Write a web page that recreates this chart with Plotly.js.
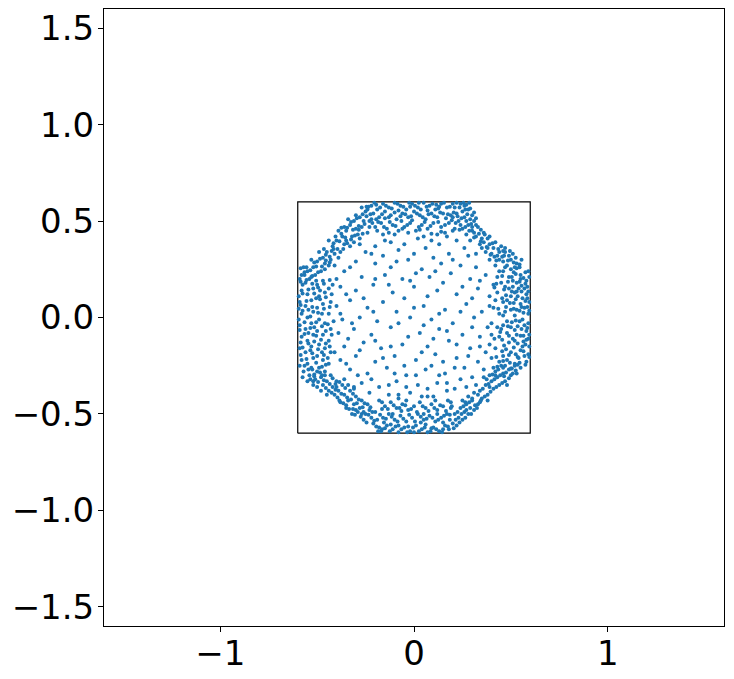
<!DOCTYPE html>
<html>
<head>
<meta charset="utf-8">
<script src="https://cdn.plot.ly/plotly-3.0.1.min.js"></script>
<style>
  html, body { margin: 0; padding: 0; background: #fff; }
  #graph { width: 734px; height: 679px; }
</style>
</head>
<body>
<div id="graph"></div>
<script>
// scatter points, grouped by region of the ring / interior
var ringRight = [[0.59,0.02],[0.57,-0.04],[0.55,0.07],[0.52,0.01],[0.48,-0.02],[0.58,0.12],[0.54,0.15],[0.5,0.11],[0.46,0.08],[0.59,-0.11],[0.56,-0.15],[0.53,-0.09],[0.49,-0.13],[0.45,-0.06],[0.58,0.19],[0.55,0.22],[0.51,0.19],[0.47,0.16],[0.43,0.13],[0.59,-0.19],[0.54,-0.21],[0.5,-0.18],[0.46,-0.2],[0.44,-0.1],[0.57,0.05],[0.53,0.04],[0.5,-0.05],[0.58,-0.07],[0.56,0.1],[0.52,0.13],[0.47,0.03],[0.44,0.02],[0.595,0.08],[0.57,0.15],[0.53,0.18],[0.49,0.21],[0.56,-0.01],[0.51,-0.11],[0.48,-0.08],[0.55,-0.17],[0.58,-0.23],[0.52,-0.24],[0.47,-0.25],[0.42,-0.16],[0.43,0.21],[0.59,0.24],[0.545,0.26],[0.5,0.25],[0.46,0.24],[0.41,0.05],[0.4,-0.03],[0.575,-0.14],[0.535,-0.135],[0.505,-0.025],[0.465,-0.145],[0.585,0.055],[0.545,0.035],[0.515,0.075],[0.475,0.115],[0.565,0.205],[0.525,0.225],[0.49,0.15],[0.45,0.18],[0.59,-0.03],[0.555,-0.06],[0.525,-0.19],[0.48,-0.22],[0.44,-0.23],[0.57,-0.2],[0.535,0.11],[0.46,-0.04],[0.42,0.09],[0.43,-0.05],[0.5,0.04],[0.565,-0.095],[0.585,0.16],[0.51,0.16],[0.475,-0.165],[0.595,-0.15],[0.555,0.135],
  [0.585,-0.055],[0.565,0.025],[0.535,-0.045],[0.505,0.135],[0.475,0.055],[0.455,-0.115],[0.595,0.21],[0.575,0.235],[0.545,0.185],[0.515,0.235],[0.485,0.185],[0.455,0.215],[0.425,0.175],[0.595,-0.205],[0.565,-0.175],[0.545,-0.235],[0.515,-0.155],[0.495,-0.235],[0.455,-0.175],[0.425,-0.205],[0.575,0.085],[0.555,0.165],[0.525,0.095],[0.495,0.075],[0.465,0.145],[0.435,0.045],[0.58,-0.115],[0.55,-0.095],[0.52,-0.065],[0.49,-0.095],[0.46,-0.225],[0.445,-0.075],[0.525,-0.015],[0.555,0.055],[0.485,-0.045],[0.415,0.155],[0.415,-0.11],[0.595,0.035],[0.59,0.135],[0.575,-0.245],[0.53,0.255],[0.47,0.26],[0.455,0.1],[0.44,0.24],[0.5,-0.265],[0.535,-0.205],[0.505,0.21],[0.565,-0.125],[0.53,0.135],[0.48,0.09],[0.585,0.1],[0.545,-0.02],[0.515,0.045],[0.46,0.01],[0.43,-0.255],[0.55,0.2],[0.49,-0.195],[0.575,0.175],[0.52,-0.12],[0.595,-0.09]];
var ringUpperRight = [[0.53,0.28],[0.5,0.3],[0.46,0.29],[0.42,0.27],[0.51,0.33],[0.47,0.34],[0.43,0.32],[0.39,0.3],[0.45,0.37],[0.41,0.36],[0.37,0.34],[0.42,0.39],[0.38,0.41],[0.34,0.38],[0.36,0.44],[0.32,0.42],[0.29,0.4],[0.33,0.47],[0.3,0.45],[0.27,0.43],[0.31,0.5],[0.28,0.48],[0.25,0.46],[0.3,0.53],[0.26,0.52],[0.23,0.5],[0.28,0.56],[0.25,0.55],[0.22,0.54],[0.27,0.585],[0.24,0.59],[0.21,0.57],[0.48,0.27],[0.44,0.3],[0.49,0.32],[0.4,0.33],[0.35,0.41],[0.39,0.38],[0.31,0.44],[0.35,0.36],[0.52,0.26],[0.555,0.3],[0.47,0.36],[0.44,0.34],[0.36,0.39],[0.29,0.51],[0.24,0.48],[0.2,0.52],[0.26,0.58],[0.22,0.595],
  [0.545,0.275],[0.515,0.285],[0.485,0.295],[0.455,0.315],[0.425,0.295],[0.395,0.325],[0.525,0.31],[0.495,0.345],[0.465,0.32],[0.435,0.355],[0.405,0.385],[0.375,0.365],[0.345,0.395],[0.39,0.42],[0.365,0.43],[0.335,0.435],[0.31,0.415],[0.285,0.45],[0.345,0.455],[0.32,0.48],[0.295,0.485],[0.265,0.47],[0.235,0.455],[0.32,0.515],[0.275,0.535],[0.245,0.515],[0.215,0.49],[0.29,0.565],[0.235,0.57],[0.205,0.545],[0.255,0.595],[0.285,0.595],[0.46,0.345],[0.415,0.315],[0.38,0.36],[0.3,0.47],[0.27,0.5],[0.31,0.545],[0.265,0.56],[0.225,0.525]];
var ringTop = [[0.2,0.59],[0.17,0.57],[0.14,0.59],[0.11,0.56],[0.08,0.58],[0.05,0.595],[0.02,0.57],[-0.01,0.59],[-0.04,0.56],[-0.07,0.58],[-0.1,0.595],[-0.13,0.57],[-0.16,0.59],[-0.19,0.56],[-0.22,0.58],[0.19,0.53],[0.15,0.54],[0.12,0.52],[0.09,0.54],[0.06,0.51],[0.03,0.53],[0.0,0.55],[-0.03,0.52],[-0.06,0.54],[-0.09,0.51],[-0.12,0.53],[-0.15,0.55],[-0.18,0.52],[-0.21,0.54],[-0.24,0.56],[0.18,0.49],[0.14,0.47],[0.1,0.49],[0.07,0.46],[0.04,0.48],[0.01,0.45],[-0.02,0.49],[-0.05,0.47],[-0.08,0.45],[-0.11,0.48],[-0.14,0.46],[-0.17,0.49],[-0.2,0.47],[-0.23,0.5],[0.16,0.44],[0.12,0.43],[0.05,0.42],[-0.1,0.43],[-0.16,0.43],[0.21,0.46],[0.13,0.575],[0.07,0.555],[-0.02,0.575],[-0.08,0.555],[-0.15,0.515],[0.025,0.595],[0.165,0.515],[0.115,0.585],[-0.045,0.535],[-0.195,0.585],
  [0.185,0.575],[0.155,0.595],[0.125,0.565],[0.095,0.59],[0.065,0.575],[0.035,0.56],[0.005,0.58],[-0.025,0.595],[-0.055,0.575],[-0.085,0.59],[-0.115,0.565],[-0.145,0.58],[-0.175,0.57],[-0.205,0.595],[-0.235,0.575],[0.175,0.535],[0.135,0.545],[0.105,0.525],[0.075,0.535],[0.045,0.52],[0.015,0.54],[-0.015,0.525],[-0.07,0.525],[-0.1,0.545],[-0.13,0.52],[-0.165,0.535],[-0.195,0.51],[-0.225,0.535],[0.195,0.505],[0.16,0.48],[0.125,0.495],[0.085,0.475],[0.055,0.495],[0.025,0.47],[-0.01,0.505],[-0.035,0.48],[-0.065,0.5],[-0.095,0.475],[-0.125,0.495],[-0.155,0.47],[-0.185,0.495],[-0.215,0.49],[0.14,0.445],[0.09,0.435],[-0.03,0.44],[-0.13,0.44],[-0.19,0.45],[0.2,0.45],[0.03,0.455],[-0.06,0.46]];
var ringUpperLeft = [[-0.25,0.55],[-0.28,0.52],[-0.31,0.5],[-0.27,0.47],[-0.24,0.44],[-0.3,0.46],[-0.33,0.48],[-0.35,0.45],[-0.32,0.42],[-0.28,0.41],[-0.37,0.42],[-0.4,0.4],[-0.36,0.38],[-0.33,0.37],[-0.42,0.37],[-0.45,0.34],[-0.41,0.33],[-0.38,0.34],[-0.47,0.31],[-0.5,0.29],[-0.46,0.28],[-0.43,0.3],[-0.52,0.26],[-0.55,0.24],[-0.51,0.22],[-0.48,0.24],[-0.58,0.22],[-0.57,0.26],[-0.26,0.5],[-0.34,0.51],[-0.39,0.45],[-0.44,0.4],[-0.49,0.34],[-0.53,0.3],[-0.29,0.43],[-0.35,0.4],[-0.41,0.27],[-0.46,0.25],[-0.39,0.31],[-0.31,0.39],[-0.22,0.51],[-0.27,0.57],[-0.23,0.47],[-0.44,0.27],[-0.54,0.2],[-0.36,0.47],
  [-0.245,0.575],[-0.265,0.535],[-0.295,0.515],[-0.325,0.495],[-0.255,0.485],[-0.285,0.475],[-0.315,0.455],[-0.345,0.465],[-0.375,0.435],[-0.305,0.425],[-0.265,0.435],[-0.355,0.415],[-0.385,0.395],[-0.415,0.385],[-0.345,0.385],[-0.395,0.355],[-0.425,0.345],[-0.455,0.325],[-0.365,0.355],[-0.435,0.315],[-0.485,0.305],[-0.515,0.285],[-0.475,0.265],[-0.455,0.295],[-0.535,0.245],[-0.565,0.235],[-0.585,0.255],[-0.525,0.215],[-0.495,0.235],[-0.555,0.26],[-0.415,0.355],[-0.465,0.355],[-0.325,0.405],[-0.285,0.455],[-0.245,0.525],[-0.375,0.465],[-0.435,0.285],[-0.505,0.265],[-0.405,0.42],[-0.3,0.53]];
var ringLeft = [[-0.59,0.2],[-0.56,0.18],[-0.53,0.21],[-0.5,0.17],[-0.47,0.19],[-0.44,0.15],[-0.58,0.14],[-0.55,0.12],[-0.52,0.15],[-0.49,0.11],[-0.46,0.13],[-0.43,0.08],[-0.59,0.08],[-0.56,0.06],[-0.53,0.09],[-0.5,0.05],[-0.47,0.07],[-0.44,0.02],[-0.58,0.02],[-0.55,0.0],[-0.52,0.03],[-0.49,-0.01],[-0.46,-0.03],[-0.43,-0.06],[-0.59,-0.04],[-0.56,-0.06],[-0.53,-0.03],[-0.5,-0.07],[-0.47,-0.09],[-0.44,-0.12],[-0.58,-0.1],[-0.55,-0.12],[-0.52,-0.09],[-0.49,-0.14],[-0.46,-0.16],[-0.43,-0.18],[-0.59,-0.16],[-0.56,-0.18],[-0.53,-0.15],[-0.5,-0.2],[-0.47,-0.22],[-0.44,-0.24],[-0.58,-0.22],[-0.55,-0.24],[-0.52,-0.21],[-0.49,-0.26],[-0.46,-0.28],[-0.57,-0.28],[-0.54,-0.3],[-0.51,-0.32],[-0.48,-0.31],[-0.575,0.17],[-0.545,0.04],[-0.515,-0.05],[-0.485,0.14],[-0.455,-0.07],[-0.585,-0.13],[-0.535,-0.17],[-0.505,0.1],[-0.475,0.02],[-0.565,0.22],[-0.595,-0.01],[-0.425,0.12],[-0.415,-0.02],[-0.435,-0.15],[-0.565,-0.25],[-0.525,-0.27],[-0.505,0.19],[-0.475,-0.18],[-0.545,-0.08],[-0.595,0.11],
  [-0.585,0.185],[-0.555,0.195],[-0.525,0.175],[-0.495,0.155],[-0.465,0.175],[-0.435,0.195],[-0.575,0.125],[-0.545,0.145],[-0.515,0.125],[-0.485,0.095],[-0.455,0.105],[-0.585,0.065],[-0.555,0.085],[-0.525,0.055],[-0.495,0.025],[-0.465,0.045],[-0.435,0.055],[-0.575,0.035],[-0.565,-0.025],[-0.535,0.005],[-0.505,-0.025],[-0.475,-0.045],[-0.445,-0.035],[-0.59,-0.065],[-0.565,-0.085],[-0.535,-0.055],[-0.505,-0.095],[-0.48,-0.115],[-0.455,-0.135],[-0.575,-0.155],[-0.545,-0.135],[-0.515,-0.125],[-0.495,-0.165],[-0.465,-0.195],[-0.445,-0.21],[-0.585,-0.195],[-0.555,-0.215],[-0.525,-0.185],[-0.505,-0.235],[-0.475,-0.255],[-0.455,-0.245],[-0.59,-0.25],[-0.575,-0.31],[-0.545,-0.27],[-0.515,-0.295],[-0.485,-0.285],[-0.535,-0.32],[-0.595,0.045],[-0.425,-0.09],[-0.42,0.17]];
var ringLowerLeft = [[-0.45,-0.33],[-0.42,-0.36],[-0.39,-0.38],[-0.36,-0.4],[-0.43,-0.3],[-0.4,-0.33],[-0.37,-0.35],[-0.34,-0.43],[-0.31,-0.45],[-0.28,-0.47],[-0.33,-0.38],[-0.3,-0.41],[-0.27,-0.43],[-0.25,-0.5],[-0.22,-0.52],[-0.29,-0.49],[-0.24,-0.45],[-0.21,-0.55],[-0.18,-0.57],[-0.26,-0.53],[-0.5,-0.28],[-0.47,-0.35],[-0.44,-0.38],[-0.41,-0.4],[-0.38,-0.44],[-0.35,-0.47],[-0.32,-0.5],[-0.53,-0.26],[-0.55,-0.33],[-0.52,-0.35],[-0.2,-0.49],[-0.23,-0.48],[-0.36,-0.32],[-0.31,-0.36],[-0.46,-0.3],[-0.48,-0.38],[-0.4,-0.36],[-0.27,-0.5],[-0.19,-0.53],[-0.34,-0.35],
  [-0.465,-0.325],[-0.435,-0.345],[-0.405,-0.375],[-0.375,-0.395],[-0.345,-0.415],[-0.42,-0.315],[-0.385,-0.335],[-0.355,-0.365],[-0.325,-0.425],[-0.295,-0.445],[-0.265,-0.465],[-0.315,-0.395],[-0.285,-0.425],[-0.255,-0.445],[-0.235,-0.505],[-0.205,-0.535],[-0.275,-0.515],[-0.225,-0.465],[-0.195,-0.565],[-0.165,-0.58],[-0.245,-0.545],[-0.495,-0.335],[-0.455,-0.365],[-0.425,-0.39],[-0.395,-0.415],[-0.365,-0.445],[-0.335,-0.475],[-0.305,-0.505],[-0.515,-0.305],[-0.5,-0.36],[-0.215,-0.49],[-0.385,-0.43],[-0.315,-0.475],[-0.45,-0.4],[-0.35,-0.455],[-0.3,-0.48],[-0.26,-0.49],[-0.405,-0.345],[-0.475,-0.3],[-0.52,-0.33]];
var ringBottom = [[-0.17,-0.59],[-0.14,-0.56],[-0.11,-0.58],[-0.08,-0.595],[-0.05,-0.57],[-0.02,-0.59],[0.01,-0.56],[0.04,-0.58],[0.07,-0.595],[0.1,-0.57],[0.13,-0.59],[0.16,-0.56],[0.18,-0.58],[-0.16,-0.52],[-0.13,-0.5],[-0.1,-0.53],[-0.07,-0.51],[-0.04,-0.54],[-0.01,-0.52],[0.02,-0.5],[0.05,-0.53],[0.08,-0.51],[0.11,-0.54],[0.14,-0.52],[0.17,-0.5],[-0.15,-0.46],[-0.12,-0.44],[-0.09,-0.47],[-0.06,-0.45],[-0.03,-0.48],[0.0,-0.46],[0.03,-0.44],[0.06,-0.47],[0.09,-0.45],[0.12,-0.48],[0.15,-0.46],[0.19,-0.44],[-0.18,-0.43],[-0.08,-0.42],[0.07,-0.41],[-0.12,-0.555],[-0.03,-0.565],[0.06,-0.555],[0.15,-0.545],[-0.065,-0.485],[0.035,-0.515],[0.12,-0.5],[-0.15,-0.575],[0.0,-0.595],[0.09,-0.575],
  [-0.185,-0.59],[-0.155,-0.545],[-0.125,-0.59],[-0.095,-0.565],[-0.065,-0.58],[-0.035,-0.595],[-0.005,-0.57],[0.025,-0.59],[0.055,-0.57],[0.085,-0.59],[0.115,-0.58],[0.145,-0.595],[0.175,-0.565],[-0.175,-0.505],[-0.145,-0.525],[-0.115,-0.515],[-0.085,-0.54],[-0.055,-0.525],[-0.025,-0.505],[0.005,-0.54],[0.035,-0.545],[0.065,-0.525],[0.095,-0.52],[0.125,-0.53],[0.155,-0.51],[0.185,-0.53],[-0.165,-0.475],[-0.135,-0.475],[-0.105,-0.455],[-0.075,-0.47],[-0.045,-0.455],[-0.015,-0.475],[0.015,-0.49],[0.045,-0.46],[0.075,-0.485],[0.105,-0.47],[0.135,-0.455],[0.165,-0.485],[-0.165,-0.44],[-0.04,-0.43],[0.11,-0.43],[0.175,-0.43],[-0.11,-0.5],[0.05,-0.5],[0.15,-0.58],[-0.08,-0.56]];
var ringLowerRight = [[0.22,-0.56],[0.25,-0.53],[0.28,-0.5],[0.31,-0.48],[0.21,-0.5],[0.24,-0.47],[0.27,-0.45],[0.3,-0.43],[0.33,-0.45],[0.35,-0.42],[0.38,-0.4],[0.41,-0.37],[0.44,-0.35],[0.34,-0.38],[0.37,-0.35],[0.4,-0.33],[0.43,-0.31],[0.46,-0.29],[0.49,-0.27],[0.52,-0.25],[0.55,-0.26],[0.5,-0.3],[0.47,-0.33],[0.42,-0.28],[0.45,-0.25],[0.39,-0.3],[0.36,-0.31],[0.31,-0.39],[0.28,-0.41],[0.25,-0.43],[0.23,-0.52],[0.2,-0.55],[0.26,-0.49],[0.32,-0.35],[0.41,-0.26],[0.48,-0.35],[0.29,-0.47],[0.19,-0.47],[0.53,-0.29],[0.38,-0.43],
  [0.205,-0.575],[0.235,-0.545],[0.265,-0.52],[0.295,-0.5],[0.325,-0.47],[0.225,-0.49],[0.255,-0.46],[0.285,-0.44],[0.315,-0.455],[0.345,-0.43],[0.365,-0.41],[0.395,-0.385],[0.425,-0.36],[0.455,-0.34],[0.355,-0.37],[0.385,-0.345],[0.415,-0.32],[0.445,-0.3],[0.475,-0.285],[0.505,-0.265],[0.535,-0.245],[0.525,-0.275],[0.49,-0.315],[0.465,-0.305],[0.435,-0.27],[0.405,-0.295],[0.375,-0.32],[0.33,-0.4],[0.3,-0.42],[0.265,-0.44],[0.245,-0.5],[0.215,-0.53],[0.185,-0.505],[0.195,-0.46],[0.39,-0.36],[0.46,-0.26],[0.51,-0.29],[0.34,-0.44],[0.42,-0.3],[0.27,-0.48]];
var inner = [[-0.12,0.39],[0.02,0.41],[0.13,0.38],[-0.2,0.37],[0.22,0.4],[-0.25,0.34],[-0.08,0.35],[0.06,0.36],[0.18,0.33],[0.28,0.32],[-0.16,0.32],[0.1,0.31],[-0.3,0.29],[-0.2,0.28],[-0.03,0.3],[0.14,0.28],[0.24,0.27],[0.32,0.26],[-0.12,0.26],[0.04,0.25],[-0.36,0.24],[-0.27,0.21],[-0.15,0.22],[-0.06,0.2],[0.08,0.21],[0.19,0.23],[0.29,0.2],[0.37,0.22],[0.01,0.23],[-0.38,0.16],[-0.3,0.14],[-0.21,0.17],[-0.11,0.13],[0.0,0.16],[0.12,0.14],[0.22,0.12],[0.33,0.15],[0.39,0.11],[-0.05,0.1],[-0.4,0.06],[-0.33,0.09],[-0.24,0.05],[-0.16,0.08],[0.05,0.06],[0.16,0.04],[0.27,0.07],[0.35,0.03],[-0.09,0.03],[-0.37,-0.01],[-0.28,0.0],[-0.19,-0.02],[-0.02,0.0],[0.09,-0.01],[0.2,-0.03],[0.31,0.0],[0.38,-0.05],[-0.39,-0.08],[-0.31,-0.06],[-0.22,-0.09],[-0.12,-0.05],[0.03,-0.08],[0.13,-0.06],[0.25,-0.09],[0.34,-0.1],[-0.36,-0.15],[-0.26,-0.13],[-0.17,-0.16],[-0.06,-0.14],[0.07,-0.15],[0.18,-0.12],[0.29,-0.16],[0.39,-0.14],[-0.38,-0.22],[-0.3,-0.2],[-0.2,-0.23],[-0.1,-0.2],[0.01,-0.22],[0.11,-0.19],[0.22,-0.21],[0.33,-0.23],[0.37,-0.18],[-0.33,-0.27],[-0.24,-0.29],[-0.14,-0.26],[-0.04,-0.3],[0.06,-0.27],[0.16,-0.29],[0.26,-0.26],[0.3,-0.31],[-0.27,-0.34],[-0.18,-0.36],[-0.09,-0.33],[0.02,-0.35],[0.12,-0.34],[0.21,-0.37],[-0.22,-0.32],[-0.13,-0.4],[-0.02,-0.39],[0.1,-0.41],[0.17,-0.38],[-0.23,-0.39],
  [-0.05,0.38],[0.09,0.4],[0.26,0.36],[-0.22,0.33],[0.0,0.33],[0.2,0.3],[-0.09,0.29],[-0.33,0.26],[0.11,0.24],[0.34,0.19],[-0.2,0.2],[-0.02,0.19],[0.15,0.18],[0.25,0.16],[-0.35,0.12],[-0.26,0.1],[-0.13,0.17],[0.07,0.11],[0.3,0.1],[0.39,0.06],[-0.38,0.02],[-0.21,0.03],[0.0,0.05],[0.13,0.02],[0.24,0.03],[-0.32,-0.03],[-0.08,-0.03],[0.05,-0.04],[0.17,-0.07],[0.3,-0.05],[0.4,-0.09],[-0.34,-0.11],[-0.2,-0.12],[-0.03,-0.1],[0.1,-0.11],[0.22,-0.14],[0.34,-0.15],[-0.28,-0.17],[-0.12,-0.15],[0.04,-0.18],[0.15,-0.23],[0.28,-0.2],[-0.35,-0.24],[-0.16,-0.21],[-0.05,-0.25],[0.09,-0.25],[0.21,-0.26],[0.36,-0.27],[-0.29,-0.3],[-0.1,-0.29],[0.01,-0.3],[0.13,-0.3],[0.24,-0.32],[-0.31,-0.37],[-0.13,-0.35],[-0.04,-0.36],[0.07,-0.37],[0.17,-0.34],[0.27,-0.36],[-0.08,-0.4],[0.04,-0.41],[-0.28,0.38],[-0.15,0.4],[0.17,0.42],[0.32,0.33],[-0.4,0.2],[0.41,0.17],[-0.41,-0.18],[0.4,-0.21]];

// square outline
var boxX = [-0.6, 0.6, 0.6, -0.6, -0.6];
var boxY = [-0.6, -0.6, 0.6, 0.6, -0.6];

var xTickVals = [-1, 0, 1];
var xTickText = ['\u22121', '0', '1'];
var yTickVals = [-1.5, -1.0, -0.5, 0.0, 0.5, 1.0, 1.5];
var yTickText = ['\u22121.5', '\u22121.0', '\u22120.5', '0.0', '0.5', '1.0', '1.5'];

var allPts = ringRight.concat(ringUpperRight, ringTop, ringUpperLeft, ringLeft,
                              ringLowerLeft, ringBottom, ringLowerRight, inner);
var px = [], py = [];
for (var i = 0; i < allPts.length; i++) {
  px.push(allPts[i][0]);
  py.push(allPts[i][1]);
}

var box = {
  x: boxX,
  y: boxY,
  type: 'scatter',
  mode: 'lines',
  line: {color: 'black', width: 1.2},
  hoverinfo: 'skip'
};

var dots = {
  x: px,
  y: py,
  type: 'scatter',
  mode: 'markers',
  marker: {color: '#1f77b4', size: 4}
};

var axisBase = {
  range: [-1.6, 1.6],
  showgrid: false,
  zeroline: false,
  showline: true,
  mirror: true,
  linecolor: 'black',
  linewidth: 1,
  ticks: 'outside',
  ticklen: 5,
  tickwidth: 1,
  tickcolor: 'black',
  tickmode: 'array',
  tickfont: {family: 'DejaVu Sans', size: 34, color: 'black'}
};

var layout = {
  width: 734,
  height: 679,
  margin: {l: 104, r: 10, t: 9, b: 53},
  paper_bgcolor: 'white',
  plot_bgcolor: 'white',
  showlegend: false,
  xaxis: Object.assign({}, axisBase, {tickvals: xTickVals, ticktext: xTickText, ticklabelstandoff: -8}),
  yaxis: Object.assign({}, axisBase, {tickvals: yTickVals, ticktext: yTickText, ticklabelstandoff: -3})
};

Plotly.newPlot('graph', [box, dots], layout, {staticPlot: true});
</script>
</body>
</html>
